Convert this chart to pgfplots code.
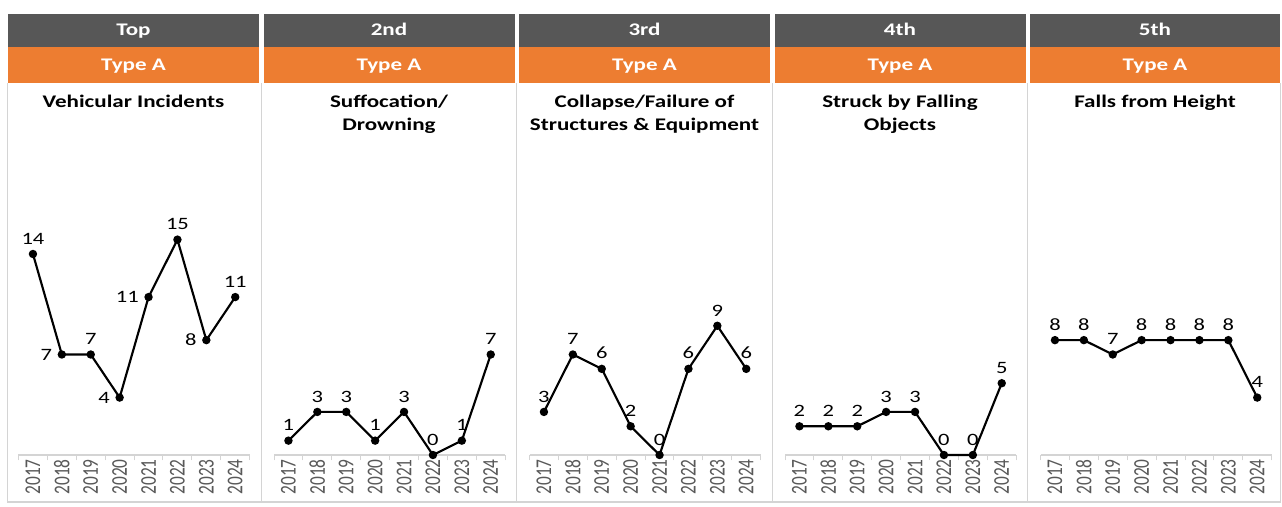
\documentclass[border=0pt]{standalone}
\usepackage{graphicx}
\usepackage{pgfplots}
\pgfplotsset{compat=1.18}
\usepackage{fontspec}
\setmainfont{Carlito}[FakeStretch=1.3]
\newfontfamily\yearfont{Carlito}
\definecolor{hdr}{HTML}{575757}
\definecolor{org}{HTML}{ED7D31}
\definecolor{brd}{HTML}{D4D4D4}
\definecolor{yr}{HTML}{595959}
\newcommand\yl[1]{\scalebox{1}[1.3]{#1}}
\newcommand\hfont{\fontsize{13.3}{15}\selectfont\bfseries}

\pgfplotsset{panel/.style={
  scale only axis, width=173.4pt, height=172.3pt,
  xmin=-0.5, xmax=7.5, ymin=0, ymax=16,
  /pgf/number format/assume math mode=true,
  axis x line*=bottom, axis y line=none, ytick=\empty,
  axis line style={-, brd, line width=1pt},
  x axis line style={-},
  xtick={0,...,7},
  xticklabels={\yl{2017},\yl{2018},\yl{2019},\yl{2020},\yl{2021},\yl{2022},\yl{2023},\yl{2024}},
  major tick length=0pt,
  extra x ticks={-0.5,0.5,1.5,2.5,3.5,4.5,5.5,6.5,7.5},
  extra x tick labels={},
  extra x tick style={major tick length=4pt, tick align=outside, tick style={brd, line width=0.75pt}},
  xticklabel style={rotate=90, anchor=east, font=\fontsize{13}{14}\yearfont, text=yr, inner sep=3pt},
  clip=false,
  anchor=south west,
},
lab/.style={
  black, line width=1.6pt, mark=*, mark size=2.3pt, mark options={solid},
  nodes near coords,
  visualization depends on={value \thisrow{a}\as\myanchor},
  nodes near coords style={font=\fontsize{13}{15}\selectfont, text=black, anchor=\myanchor, inner sep=6.5pt},
}}

\begin{document}
\begin{tikzpicture}
\begin{scope}[x=0.75pt, y=-0.75pt]
\fill[white] (0,0) rectangle (1282,507);
% headers
\fill[hdr] (8,14) rectangle (259,47);      \fill[org] (8,47) rectangle (259,83);
\fill[hdr] (263.5,14) rectangle (514.5,47); \fill[org] (263.5,47) rectangle (514.5,83);
\fill[hdr] (519,14) rectangle (770,47);     \fill[org] (519,47) rectangle (770,83);
\fill[hdr] (774.5,14) rectangle (1025.5,47); \fill[org] (774.5,47) rectangle (1025.5,83);
\fill[hdr] (1030,14) rectangle (1280,47);   \fill[org] (1030,47) rectangle (1280,83);
% borders
\draw[brd, line width=1pt] (7.5,83) -- (7.5,502) -- (1280.5,502) -- (1280.5,83);
\foreach \xx in {261.25,516.75,772.25,1027.75} {\draw[brd, line width=1pt] (\xx,83) -- (\xx,502);}
% header texts
\foreach \cx/\rk in {133.5/Top,389/2nd,644.5/3rd,900/4th,1155/5th} {
  \node[text=white, font=\hfont, anchor=base, inner sep=0pt] at (\cx,35) {\rk};
  \node[text=white, font=\hfont, anchor=base, inner sep=0pt] at (\cx,70) {Type A};
}
% titles
\node[font=\hfont, anchor=base, inner sep=0pt] at (133.5,107) {Vehicular Incidents};
\node[font=\hfont, anchor=base, inner sep=0pt] at (389,107) {Suffocation/};
\node[font=\hfont, anchor=base, inner sep=0pt] at (389,130.5) {Drowning};
\node[font=\hfont, anchor=base, inner sep=0pt] at (644.5,107) {Collapse/Failure of};
\node[font=\hfont, anchor=base, inner sep=0pt] at (644.5,130.5) {Structures \& Equipment};
\node[font=\hfont, anchor=base, inner sep=0pt] at (900,107) {Struck by Falling};
\node[font=\hfont, anchor=base, inner sep=0pt] at (900,130.5) {Objects};
\node[font=\hfont, anchor=base, inner sep=0pt] at (1155,107) {Falls from Height};
\end{scope}

\begin{axis}[panel, at={(13.875pt,-341.25pt)}]
\addplot[lab] table[x=x,y=y] {
x y a
0 14 south
1 7 east
2 7 south
3 4 east
4 11 east
5 15 south
6 8 east
7 11 south
};
\end{axis}
\begin{axis}[panel, at={(205.5pt,-341.25pt)}]
\addplot[lab] table[x=x,y=y] {
x y a
0 1 south
1 3 south
2 3 south
3 1 south
4 3 south
5 0 south
6 1 south
7 7 south
};
\end{axis}
\begin{axis}[panel, at={(397.125pt,-341.25pt)}]
\addplot[lab] table[x=x,y=y] {
x y a
0 3 south
1 7 south
2 6 south
3 2 south
4 0 south
5 6 south
6 9 south
7 6 south
};
\end{axis}
\begin{axis}[panel, at={(588.75pt,-341.25pt)}]
\addplot[lab] table[x=x,y=y] {
x y a
0 2 south
1 2 south
2 2 south
3 3 south
4 3 south
5 0 south
6 0 south
7 5 south
};
\end{axis}
\begin{axis}[panel, at={(780.375pt,-341.25pt)}]
\addplot[lab] table[x=x,y=y] {
x y a
0 8 south
1 8 south
2 7 south
3 8 south
4 8 south
5 8 south
6 8 south
7 4 south
};
\end{axis}
\end{tikzpicture}
\end{document}
